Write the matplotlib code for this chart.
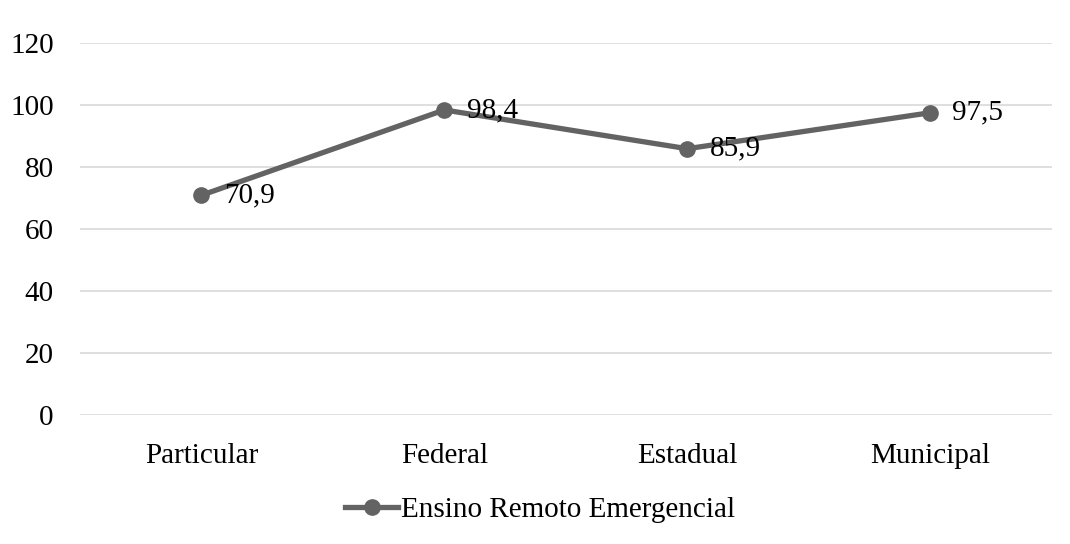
import matplotlib
matplotlib.use('Agg')
import matplotlib.pyplot as plt

# data
categories = ['Particular', 'Federal', 'Estadual', 'Municipal']
valores = [70.9, 98.4, 85.9, 97.5]
rotulos = ['70,9', '98,4', '85,9', '97,5']
serie = 'Ensino Remoto Emergencial'
yticks = [0, 20, 40, 60, 80, 100, 120]

plt.rcParams['font.family'] = ['Liberation Serif', 'DejaVu Serif']
plt.rcParams['font.size'] = 21

fig = plt.figure(figsize=(10.7, 5.44), dpi=100)
ax = fig.add_axes([0.0748, 0.237, 0.908, 0.684])

x = range(len(categories))
ax.plot(x, valores, '-o', color='#636363', lw=3.8, ms=11, label=serie, zorder=3)

for xi, v, t in zip(x, valores, rotulos):
    ax.annotate(t, (xi, v), xytext=(16, 0), textcoords='offset points',
                ha='left', va='center', fontsize=21)

ax.set_xlim(-0.5, len(categories) - 0.5)
ax.set_ylim(0, 120)
ax.set_yticks(yticks)
ax.set_xticks(list(x))
ax.set_xticklabels(categories)
ax.yaxis.grid(True, color='#d9d9d9', lw=1.2)
ax.set_axisbelow(True)
for s in ax.spines.values():
    s.set_visible(False)
ax.tick_params(axis='both', length=0)
ax.tick_params(axis='y', pad=19)
ax.tick_params(axis='x', pad=20)

fig.legend(loc='center', bbox_to_anchor=(0.505, 0.062), frameon=False,
           handlelength=1.8, handletextpad=0.12, fontsize=21,
           borderpad=0, borderaxespad=0)

fig.savefig('out.png', dpi=100)
